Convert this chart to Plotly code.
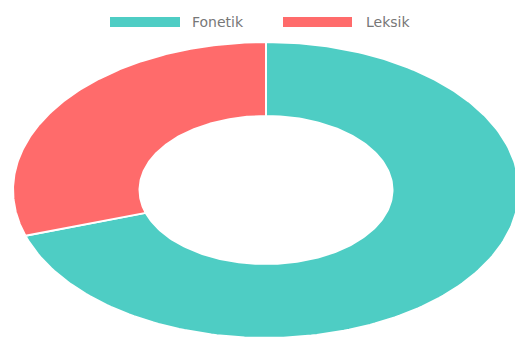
import numpy as np
import plotly.graph_objects as go

labels = ["Fonetik", "Leksik"]
values = [70, 30]
colors = ["#4ECDC4", "#FF6B6B"]

hole = 0.5
total = sum(values)
fig = go.Figure()

cum = 0.0
for lab, val, col in zip(labels, values, colors):
    a0 = cum / total * 360.0
    a1 = (cum + val) / total * 360.0
    cum += val
    t = np.radians(np.linspace(a0, a1, 200))
    # clockwise from top
    xo, yo = np.sin(t), np.cos(t)
    xi, yi = hole * np.sin(t[::-1]), hole * np.cos(t[::-1])
    x = np.concatenate([xo, xi, xo[:1]])
    y = np.concatenate([yo, yi, yo[:1]])
    fig.add_trace(go.Scatter(
        x=x, y=y, fill="toself", mode="lines", fillcolor=col,
        line=dict(color="white", width=2), name=lab, showlegend=False,
        hoveron="fills", hoverinfo="text", text=f"{lab}: {val}",
    ))

# manual chart.js-style legend
legend_items = [(110, 180, 190), (283, 352, 364)]
W, H = 515, 338
for (bx0, bx1, tx), lab, col in zip(legend_items, labels, colors):
    fig.add_shape(type="rect", xref="paper", yref="paper",
                  x0=bx0 / W, x1=bx1 / W, y0=1 - 27 / H, y1=1 - 17 / H,
                  fillcolor=col, line=dict(width=0))
    fig.add_annotation(x=tx / W, y=1 - 22 / H, xref="paper", yref="paper",
                       text=lab, showarrow=False, xanchor="left", yanchor="middle",
                       font=dict(family="DejaVu Sans", size=14, color="#777777"))

cx, cy, rx, ry = 266, 190, 253, 148
fig.update_layout(
    width=W, height=H, margin=dict(l=0, r=0, t=0, b=0),
    paper_bgcolor="white", plot_bgcolor="white", showlegend=False,
    xaxis=dict(range=[(0 - cx) / rx, (W - cx) / rx], visible=False, fixedrange=True),
    yaxis=dict(range=[-(H - cy) / ry, cy / ry], visible=False, fixedrange=True),
)
fig.write_html("out.html")
